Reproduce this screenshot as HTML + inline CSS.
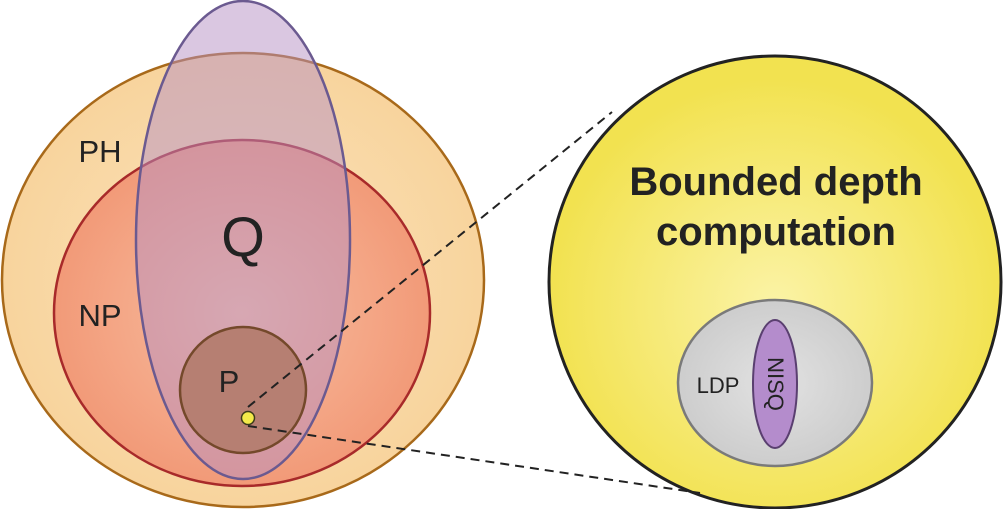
<!DOCTYPE html>
<html><head><meta charset="utf-8"><style>
html,body{margin:0;padding:0;background:#fff;}
svg{display:block;}
text{font-family:"Liberation Sans",sans-serif;}
</style></head><body>
<svg width="1004" height="509" viewBox="0 0 1004 509" xmlns="http://www.w3.org/2000/svg">
<defs>
<radialGradient id="ph" cx="50%" cy="50%" r="50%"><stop offset="0" stop-color="#fbe3bd"/><stop offset="1" stop-color="#f8d49d"/></radialGradient>
<radialGradient id="np" cx="50%" cy="50%" r="50%"><stop offset="0" stop-color="#f8bfa2"/><stop offset="1" stop-color="#f29a78"/></radialGradient>
<radialGradient id="yl" cx="50%" cy="55%" r="50%"><stop offset="0" stop-color="#fbf3a6"/><stop offset="1" stop-color="#f2e250"/></radialGradient>
<radialGradient id="gr" cx="50%" cy="50%" r="50%"><stop offset="0" stop-color="#e2e2e2"/><stop offset="1" stop-color="#cdcdcd"/></radialGradient>
</defs>
<ellipse cx="243" cy="280" rx="241" ry="227" fill="url(#ph)" stroke="#a8691a" stroke-width="2.5"/>
<ellipse cx="242" cy="313" rx="188" ry="173" fill="url(#np)" stroke="#a82a2a" stroke-width="2.5"/>
<ellipse cx="243" cy="240" rx="107" ry="239" fill="#b690c4" fill-opacity="0.5" stroke="#6b5a90" stroke-width="2.5"/>
<circle cx="243" cy="390" r="63" fill="#b67f72" stroke="#74492b" stroke-width="2.5"/>
<text x="243" y="256" font-size="56" text-anchor="middle" fill="#222">Q</text>
<text x="100" y="162" font-size="31" text-anchor="middle" fill="#222">PH</text>
<text x="100" y="326" font-size="31" text-anchor="middle" fill="#222">NP</text>
<text x="229" y="392" font-size="31" text-anchor="middle" fill="#222">P</text>
<circle cx="775" cy="282" r="226" fill="url(#yl)" stroke="#222" stroke-width="3"/>
<line x1="248" y1="407" x2="612" y2="112" stroke="#222" stroke-width="2" stroke-dasharray="9,6"/>
<line x1="248" y1="426" x2="700" y2="493" stroke="#222" stroke-width="2" stroke-dasharray="9,6"/>
<circle cx="248" cy="418" r="6.5" fill="#f3ea4a" stroke="#3b3b1a" stroke-width="1.5"/>
<text x="776" y="195" font-size="40" font-weight="bold" text-anchor="middle" fill="#222">Bounded depth</text>
<text x="776" y="245" font-size="40" font-weight="bold" text-anchor="middle" fill="#222">computation</text>
<ellipse cx="775" cy="383" rx="97" ry="83" fill="url(#gr)" stroke="#7a7a7a" stroke-width="2.5"/>
<ellipse cx="775" cy="384" rx="22" ry="64" fill="#b48ccc" stroke="#5a3f70" stroke-width="2"/>
<text x="718" y="393" font-size="22" text-anchor="middle" fill="#222">LDP</text>
<text x="0" y="0" font-size="22" text-anchor="middle" fill="#222" transform="translate(768,384) rotate(90)">NISQ</text>
</svg>
</body></html>
